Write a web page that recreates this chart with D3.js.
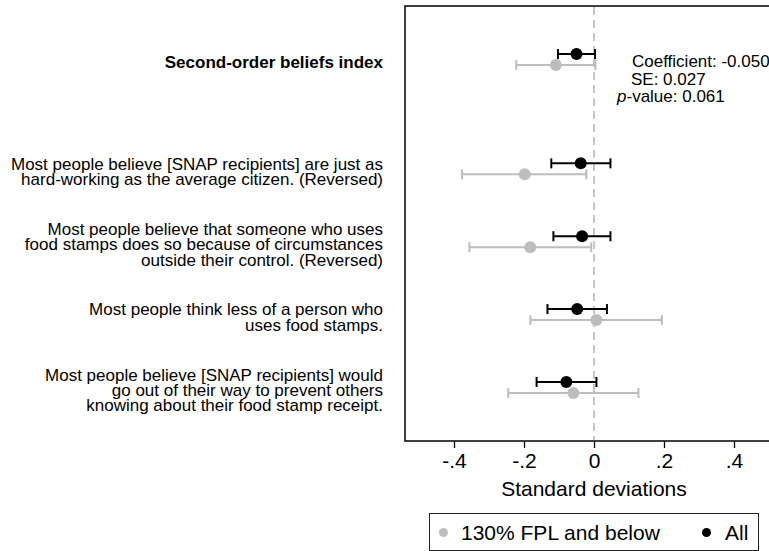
<!DOCTYPE html>
<html>
<head>
<meta charset="utf-8">
<script src="https://cdn.jsdelivr.net/npm/d3@7"></script>
<style>
  html, body { margin: 0; padding: 0; background: #fff; }
  svg { display: block; font-family: "Liberation Sans", Arial, Helvetica, sans-serif; }
</style>
</head>
<body>
<svg id="chart" width="769" height="551"></svg>
<script>
// Outcome rows (top to bottom); each label may span several lines
const outcomes = [
  ["Second-order beliefs index"],
  ["Most people believe [SNAP recipients] are just as", "hard-working as the average citizen. (Reversed)"],
  ["Most people believe that someone who uses", "food stamps does so because of circumstances", "outside their control. (Reversed)"],
  ["Most people think less of a person who", "uses food stamps."],
  ["Most people believe [SNAP recipients] would", "go out of their way to prevent others", "knowing about their food stamp receipt."]
];
// Vertical position of each row (extra gap after the index)
const rowPos = [0, 1.5, 2.5, 3.5, 4.5];

// Full sample: estimates and 95% CI bounds
const allEst = [-0.050, -0.038, -0.034, -0.048, -0.079];
const allLo  = [-0.103, -0.122, -0.116, -0.133, -0.164];
const allHi  = [ 0.003,  0.047,  0.047,  0.037,  0.007];

// 130% FPL and below: estimates and 95% CI bounds
const lowEst = [-0.109, -0.198, -0.182,  0.007, -0.059];
const lowLo  = [-0.222, -0.377, -0.356, -0.182, -0.245];
const lowHi  = [ 0.004, -0.022, -0.008,  0.194,  0.127];

// Index statistics for the full sample
const indexCoef = allEst[0];
const indexSE = 0.027;
const indexP = 0.061;

// Axis ticks
const xTicks = [-0.4, -0.2, 0, 0.2, 0.4];
const xTickLabels = ["-.4", "-.2", "0", ".2", ".4"];

const legendItems = ["130% FPL and below", "All"];

const svg = d3.select("#chart");
const FRAME = { left: 405, top: 6, bottom: 441 };

const x = d3.scaleLinear().domain([-0.54, 0.54]).range([FRAME.left, FRAME.left + 378]);
const y = d3.scaleLinear().domain([-0.735, 5.235]).range([FRAME.top, FRAME.bottom]);

const grey = "#bdbdbd";
const black = "#000";

// Plot frame (right side runs past the canvas edge)
svg.append("rect")
  .attr("x", x.range()[0]).attr("y", FRAME.top)
  .attr("width", x.range()[1] - x.range()[0]).attr("height", FRAME.bottom - FRAME.top)
  .attr("fill", "none").attr("stroke", "#111").attr("stroke-width", 1.6);

// Zero reference line
svg.append("line")
  .attr("x1", x(0)).attr("x2", x(0))
  .attr("y1", FRAME.top + 1).attr("y2", FRAME.bottom - 1)
  .attr("stroke", "#b8b8b8").attr("stroke-width", 1.6)
  .attr("stroke-dasharray", "8,5");

// Row labels, right aligned
const lineGap = 15.3;
const labelG = svg.append("g").attr("font-size", 17).attr("fill", "#000");
outcomes.forEach((lines, i) => {
  const cy = y(rowPos[i]);
  const first = cy - (lines.length - 1) * lineGap / 2 + 8.5;
  const t = labelG.append("text")
    .attr("text-anchor", "end")
    .attr("font-weight", i === 0 ? "bold" : "normal");
  lines.forEach((ln, k) => {
    t.append("tspan").attr("x", 383).attr("y", first + k * lineGap).text(ln);
  });
});

// Draw a series of estimates with capped CI whiskers
function drawSeries(est, lo, hi, color, dy) {
  const g = svg.append("g");
  const rows = d3.range(est.length);
  const cap = 5;
  g.selectAll("line.ci").data(rows).join("line")
    .attr("x1", i => x(lo[i])).attr("x2", i => x(hi[i]))
    .attr("y1", i => y(rowPos[i]) + dy).attr("y2", i => y(rowPos[i]) + dy)
    .attr("stroke", color).attr("stroke-width", 2);
  g.selectAll("line.lc").data(rows).join("line")
    .attr("x1", i => x(lo[i])).attr("x2", i => x(lo[i]))
    .attr("y1", i => y(rowPos[i]) + dy - cap).attr("y2", i => y(rowPos[i]) + dy + cap)
    .attr("stroke", color).attr("stroke-width", 2);
  g.selectAll("line.hc").data(rows).join("line")
    .attr("x1", i => x(hi[i])).attr("x2", i => x(hi[i]))
    .attr("y1", i => y(rowPos[i]) + dy - cap).attr("y2", i => y(rowPos[i]) + dy + cap)
    .attr("stroke", color).attr("stroke-width", 2);
  g.selectAll("circle").data(rows).join("circle")
    .attr("cx", i => x(est[i])).attr("cy", i => y(rowPos[i]) + dy)
    .attr("r", 6).attr("fill", color);
}
drawSeries(lowEst, lowLo, lowHi, grey, 5.5);
drawSeries(allEst, allLo, allHi, black, -5.5);

// Index statistics annotation
const ann = svg.append("g").attr("font-size", 17).attr("fill", "#000");
ann.append("text").attr("x", 632).attr("y", 66.5)
  .text("Coefficient: " + d3.format(".3f")(indexCoef).replace("−", "-"));
ann.append("text").attr("x", 631).attr("y", 84.5)
  .text("SE: " + d3.format(".3f")(indexSE));
const pt = ann.append("text").attr("x", 617).attr("y", 101.5);
pt.append("tspan").attr("font-style", "italic").text("p");
pt.append("tspan").text("-value: " + d3.format(".3f")(indexP));

// Bottom axis
const axis = d3.axisBottom(x)
  .tickValues(xTicks)
  .tickFormat((d, i) => xTickLabels[i])
  .tickSize(7).tickPadding(5);
const axG = svg.append("g").attr("transform", `translate(0,${FRAME.bottom})`).call(axis);
axG.select(".domain").remove();
axG.selectAll(".tick line").attr("stroke", "#000").attr("stroke-width", 1.3);
axG.selectAll(".tick text")
  .attr("font-size", 21).attr("font-family", "Liberation Sans, Arial, sans-serif")
  .attr("fill", "#000");

svg.append("text")
  .attr("x", x(0)).attr("y", 496)
  .attr("text-anchor", "middle").attr("font-size", 21)
  .text("Standard deviations");

// Legend
const lg = svg.append("g");
lg.append("rect").attr("x", 429.5).attr("y", 513.5).attr("width", 329).attr("height", 37)
  .attr("fill", "#fff").attr("stroke", "#222").attr("stroke-width", 1);
lg.append("circle").attr("cx", 443.5).attr("cy", 532.5).attr("r", 4.5).attr("fill", grey);
lg.append("text").attr("x", 461).attr("y", 540).attr("font-size", 21).text(legendItems[0]);
lg.append("circle").attr("cx", 706.5).attr("cy", 532.5).attr("r", 4.5).attr("fill", black);
lg.append("text").attr("x", 725).attr("y", 540).attr("font-size", 21).text(legendItems[1]);
</script>
</body>
</html>
